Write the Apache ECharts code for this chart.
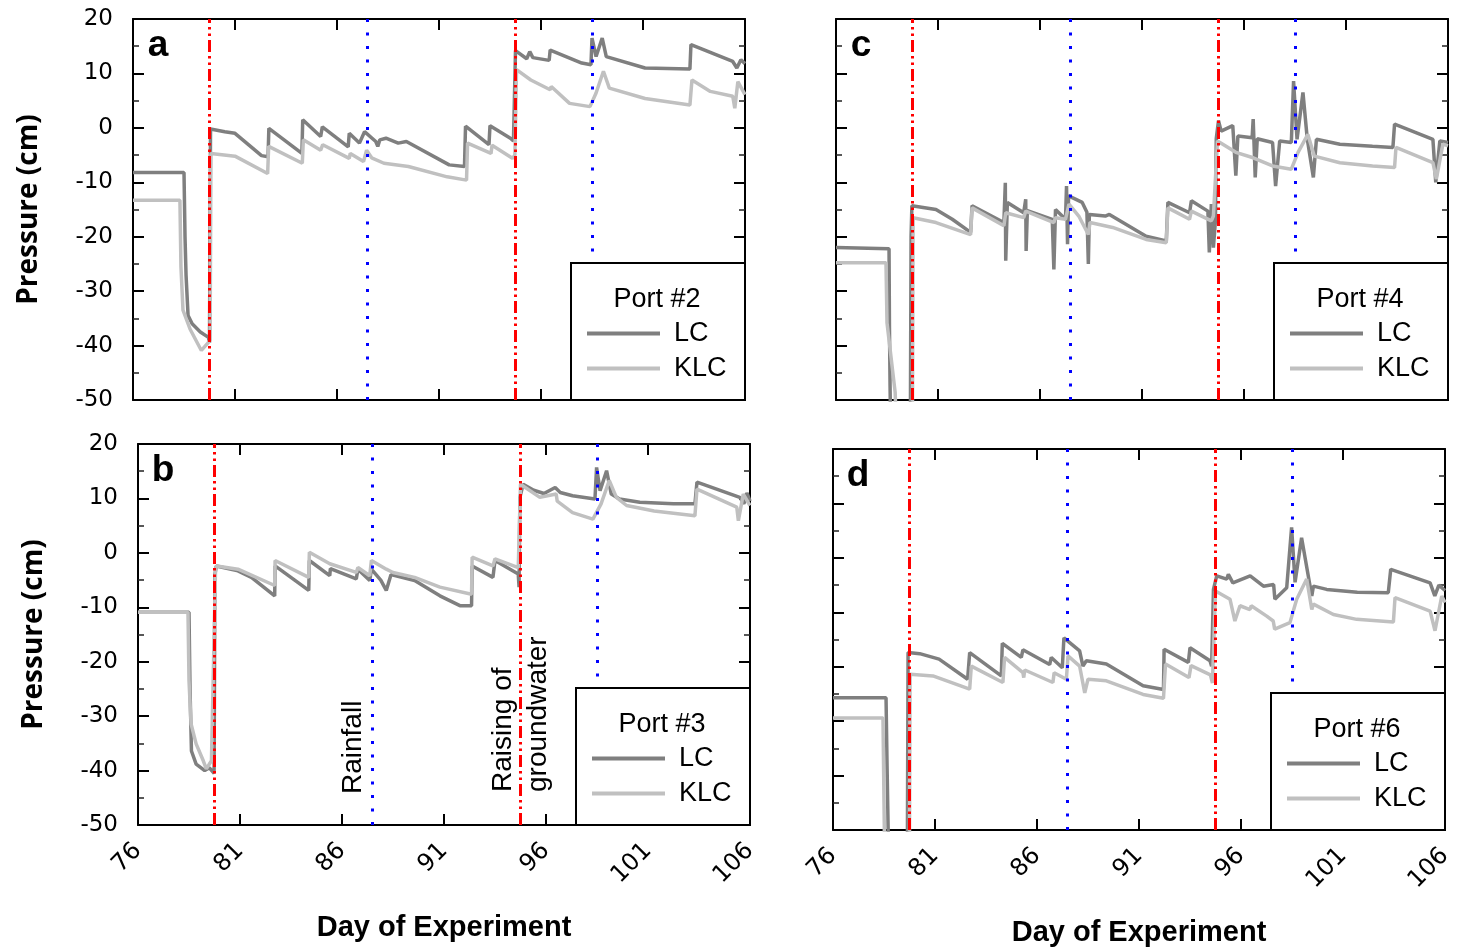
<!DOCTYPE html>
<html>
<head>
<meta charset="utf-8">
<script src="https://cdn.jsdelivr.net/npm/echarts@6/dist/echarts.min.js"></script>
<style>
  html, body { margin: 0; padding: 0; background: #fff; }
  #chart { width: 1459px; height: 951px; }
</style>
</head>
<body>
<div id="chart"></div>
<script>
// Event days (vertical guide lines)
const groundwaterDays = [79.75, 94.72];
const rainfallDays = [87.46, 98.5];

// Axis ranges
const dayRange = [76, 106];
const pressureRange = [-50, 20];

// Port #2 pressure (cm) by day
const port2LC = [[76,-8.2],[78.5,-8.2],[78.55,-20],[78.6,-27],[78.7,-34.5],[78.9,-36],[79.3,-37.5],[79.7,-38.5],[79.75,-39.5],[79.8,-0.2],[80.5,-0.7],[81.0,-1.0],[82.3,-5.1],[82.62,-5.3],[82.66,-0.1],[84.28,-4.7],[84.32,1.5],[85.2,-1.6],[85.28,0.2],[86.55,-3.5],[86.6,-1],[87.1,-2.8],[87.35,-0.7],[87.9,-2.5],[88.0,-3.4],[88.1,-2.2],[88.4,-1.9],[89.0,-2.8],[89.4,-2.5],[91.5,-6.8],[92.25,-7.1],[92.3,0.3],[93.45,-3.1],[93.5,0.4],[94.5,-1.9],[94.65,-2.4],[94.75,14.2],[95.3,12.7],[95.45,14],[95.6,12.9],[96.4,12.4],[96.45,14.3],[98.0,11.9],[98.45,11.6],[98.5,16.5],[98.7,13.1],[99.0,16.5],[99.2,13.1],[101.1,11.0],[103.3,10.8],[103.35,15.3],[105.4,12.2],[105.6,11],[105.8,12.5],[106,11.8]];
const port2KLC = [[76,-13.3],[78.3,-13.3],[78.35,-25.5],[78.45,-33.5],[78.8,-37],[79.35,-40.9],[79.7,-39.4],[79.78,-39],[79.82,-4.7],[81.0,-5.2],[82.6,-8.4],[82.65,-3.4],[84.3,-6.5],[84.35,-2.2],[85.2,-4.1],[85.3,-3.1],[86.6,-5.6],[86.65,-4.7],[87.3,-6.2],[87.45,-4.1],[87.7,-5.5],[88.3,-6.5],[89.5,-7.1],[91.4,-9],[92.35,-9.6],[92.4,-2.8],[93.55,-4.7],[93.6,-3.2],[94.6,-5.6],[94.72,-5.0],[94.8,10.7],[95.5,8.8],[96.45,7],[96.5,7.6],[97.4,4.5],[98.4,3.9],[98.7,6.4],[99.06,10.4],[99.35,7.3],[101.1,5.4],[103.3,4.2],[103.4,8.8],[104.3,6.7],[105.4,5.8],[105.5,3.6],[105.65,8.5],[106,6.1]];

// Port #3 pressure (cm) by day
const port3LC = [[76,-10.9],[78.5,-10.9],[78.55,-25],[78.62,-36.4],[78.85,-38.8],[79.27,-40],[79.5,-39.5],[79.73,-40.5],[79.77,-4],[79.84,-2.4],[80.9,-3.3],[81.56,-4.5],[82.7,-7.9],[82.72,-2.4],[84.37,-6.9],[84.4,-1.4],[85.4,-4.2],[85.43,-2.9],[86.7,-4.8],[86.78,-3.0],[87.36,-5.1],[87.44,-3.0],[87.9,-5.0],[88.17,-6.9],[88.4,-4.0],[89.56,-5.1],[90.8,-7.9],[91.78,-9.7],[92.35,-9.7],[92.38,-2.4],[93.4,-4.5],[93.5,-1.4],[94.64,-3.9],[94.68,-6.3],[94.72,10.2],[94.88,12.6],[95.4,11.5],[95.9,10.9],[96.45,12.0],[96.7,11.1],[97.3,10.5],[98.4,9.9],[98.48,15.7],[98.65,11.4],[98.97,15.1],[99.2,10.8],[99.6,9.9],[100.6,9.3],[102.24,9.0],[103.3,9.0],[103.4,13.0],[105.5,10.2],[105.7,9.0],[105.85,11.0],[106,9.5]];
const port3KLC = [[76,-10.9],[78.45,-10.9],[78.5,-23.5],[78.6,-31.4],[78.85,-35.1],[79.2,-38.2],[79.35,-39.7],[79.6,-38.2],[79.8,-3],[79.86,-2.4],[80.9,-3.0],[82.7,-6.0],[82.72,-1.4],[84.37,-4.5],[84.4,0.1],[85.4,-2.0],[85.43,-1.7],[86.7,-3.6],[86.78,-2.7],[87.36,-4.2],[87.44,-1.4],[88.17,-3.0],[88.5,-3.6],[89.56,-4.5],[90.8,-6.3],[92.35,-7.6],[92.38,-0.8],[93.4,-2.4],[93.5,-1.1],[94.64,-2.7],[94.75,12.6],[95.7,10.2],[96.5,10.8],[96.55,9.5],[97.3,7.4],[98.3,6.2],[98.7,9.0],[99.1,13.3],[99.45,10.2],[99.95,8.7],[101.3,7.7],[103.3,6.8],[103.4,11.7],[105.35,8.4],[105.43,5.9],[105.67,10.8],[106,8.7]];

// Port #4 pressure (cm) by day
const port4LC = [[76,-22.0],[78.6,-22.2],[78.62,-36.4],[78.65,-47.4],[78.7,-60],[79.64,-60],[79.68,-20],[79.72,-14.3],[80.9,-15],[81.7,-16.8],[82.6,-19.2],[82.67,-14.3],[84.23,-17.4],[84.3,-10.1],[84.32,-24.4],[84.4,-13.7],[85.2,-15.6],[85.3,-13.1],[85.32,-22.6],[85.38,-15.2],[86.6,-16.8],[86.68,-26],[86.76,-15],[87.25,-16.8],[87.3,-10.7],[87.35,-21.4],[87.4,-12.5],[88.07,-13.7],[88.3,-15.5],[88.37,-25],[88.42,-15.9],[89.2,-16.2],[89.4,-15.9],[91.2,-19.9],[92.19,-20.8],[92.27,-13.7],[93.33,-15.6],[93.42,-13.4],[94.23,-15.3],[94.3,-22.9],[94.4,-14],[94.5,-22],[94.6,-17],[94.64,-2],[94.75,1.3],[94.88,-0.6],[95.45,0.4],[95.6,-8.8],[95.7,-1.5],[96.4,-1.8],[96.45,1.6],[96.55,-9.1],[96.65,-2.0],[97.4,-2.7],[97.55,-10.7],[97.75,-2.4],[98.32,-2.7],[98.43,8.6],[98.6,-2.1],[98.89,6.5],[99.1,-2],[99.4,-9.1],[99.55,-2.1],[100.7,-3.0],[102.3,-3.4],[103.3,-3.6],[103.38,0.7],[105.26,-2.1],[105.4,-10.0],[105.6,-2.4],[106,-2.7]];
const port4KLC = [[76,-24.8],[78.45,-24.8],[78.5,-35.8],[78.9,-48.6],[79.0,-60],[79.74,-60],[79.78,-16.5],[80.9,-17.4],[82.6,-19.6],[82.67,-14.7],[84.23,-18.0],[84.32,-15.6],[85.2,-16.5],[85.3,-15.3],[86.68,-17.4],[86.76,-16.5],[87.25,-16.8],[87.42,-14.0],[87.9,-16.2],[88.37,-19.6],[88.45,-17.4],[89.56,-18.3],[91.2,-20.5],[92.19,-21.1],[92.27,-14.7],[93.33,-16.8],[93.42,-15.3],[94.4,-17.1],[94.5,-16.2],[94.7,-2.4],[95.6,-4.5],[96.45,-5.5],[97.4,-7.0],[98.32,-7.6],[98.65,-4.5],[99.13,-1.2],[99.45,-5.2],[100.7,-6.4],[102.3,-7.0],[103.38,-7.3],[103.45,-3.6],[105.26,-6.4],[105.43,-9.4],[105.75,-3.0],[106,-3.3]];

// Port #6 pressure (cm) by day
const port6LC = [[76,-25.7],[78.6,-25.7],[78.65,-38.2],[78.75,-60],[79.64,-60],[79.68,-17.4],[80.25,-17.6],[81.2,-18.6],[82.6,-22.3],[82.7,-17.4],[84.25,-21.7],[84.3,-15.7],[85.23,-18.3],[85.31,-16.9],[86.62,-19.6],[86.7,-18.3],[87.24,-20.2],[87.32,-14.7],[88.09,-17.1],[88.25,-19.9],[88.42,-18.9],[89.4,-19.5],[91.2,-23.5],[92.2,-24.2],[92.23,-16.8],[93.42,-19.2],[93.5,-16.5],[94.48,-18.9],[94.56,-19.9],[94.65,-5.8],[94.81,-3.3],[95.3,-3.9],[95.38,-3.0],[95.6,-4.6],[96.45,-3.3],[97.1,-5.2],[97.6,-4.9],[97.66,-7.6],[98.24,-5.5],[98.48,5.6],[98.65,-4.5],[98.97,3.7],[99.47,-7.0],[99.55,-5.2],[100.2,-5.8],[101.7,-6.3],[103.22,-6.4],[103.34,-2.1],[105.27,-4.6],[105.5,-7],[105.7,-5],[106,-6]];
const port6KLC = [[76,-29.4],[78.45,-29.4],[78.5,-45],[78.55,-60],[79.74,-60],[79.78,-21.4],[80.9,-21.7],[82.7,-24.1],[82.78,-19.9],[84.33,-22.9],[84.41,-18.3],[85.31,-21.1],[85.35,-22],[85.4,-20.6],[86.78,-22.9],[86.84,-21.1],[87.44,-22.3],[87.52,-18.0],[88.09,-19.9],[88.34,-24.8],[88.5,-22.3],[89.4,-22.6],[91.2,-25.1],[92.2,-25.8],[92.3,-19.5],[93.45,-22],[93.55,-19.8],[94.5,-21.5],[94.6,-23],[94.75,-6.1],[95.46,-7.6],[95.7,-11.6],[95.95,-8.8],[96.44,-9.5],[96.5,-8.8],[97.26,-10.7],[97.58,-11.6],[97.65,-13.1],[98.4,-11.9],[98.73,-7.6],[99.22,-3.9],[99.47,-9.5],[99.55,-8.5],[100.53,-10.4],[101.67,-11.3],[103.47,-11.8],[103.55,-7.3],[105.27,-9.8],[105.51,-13.4],[105.84,-7.0],[106,-8.2]];

const portNames = ['Port #2', 'Port #3', 'Port #4', 'Port #6'];
const panelLetters = ['a', 'b', 'c', 'd'];
const lcSeries = [port2LC, port3LC, port4LC, port6LC];
const klcSeries = [port2KLC, port3KLC, port4KLC, port6KLC];

// Panel placement (pixels)
const PW = 612, PH = 381;
const panelBoxes = [
  { left: 133, top: 19,  xLabels: false, yLabels: true },
  { left: 138, top: 444, xLabels: true,  yLabels: true },
  { left: 836, top: 19,  xLabels: false, yLabels: false },
  { left: 833, top: 449, xLabels: true,  yLabels: false }
];

const LC_COLOR = '#7f7f7f';
const KLC_COLOR = '#c0c0c0';
const TICK_FONT = 'DejaVu Sans';
const TEXT_FONT = 'Liberation Sans';

const frameLine = { show: true, onZero: false, lineStyle: { color: '#000', width: 2 } };
const majorTick = { show: true, inside: true, length: 11, lineStyle: { color: '#000', width: 2 } };

const grids = [], xAxes = [], yAxes = [], series = [], legends = [], graphics = [];

panelBoxes.forEach((box) => {
  grids.push({ left: box.left, top: box.top, width: PW, height: PH, show: false });
});

// bottom and top x axes
for (let pass = 0; pass < 2; pass++) {
  panelBoxes.forEach((box, i) => {
    const isBottom = pass === 0;
    xAxes.push({
      type: 'value', gridIndex: i, position: isBottom ? 'bottom' : 'top',
      min: dayRange[0], max: dayRange[1], interval: 5,
      axisLine: frameLine, axisTick: majorTick, splitLine: { show: false },
      axisLabel: {
        show: isBottom && box.xLabels, rotate: 45, margin: 22,
        fontFamily: TICK_FONT, fontSize: 24, color: '#000'
      },
      name: (isBottom && box.xLabels) ? 'Day of Experiment' : '',
      nameLocation: 'middle', nameGap: 88,
      nameTextStyle: { fontFamily: TEXT_FONT, fontWeight: 'bold', fontSize: 29, color: '#000' }
    });
  });
}

// left and right y axes
for (let pass = 0; pass < 2; pass++) {
  panelBoxes.forEach((box, i) => {
    const isLeft = pass === 0;
    yAxes.push({
      type: 'value', gridIndex: i, position: isLeft ? 'left' : 'right',
      min: pressureRange[0], max: pressureRange[1], interval: 10,
      axisLine: frameLine, axisTick: majorTick,
      minorTick: { show: true, splitNumber: 2, length: 6, lineStyle: { color: '#222', width: 1.5 } },
      splitLine: { show: false }, minorSplitLine: { show: false },
      axisLabel: {
        show: isLeft && box.yLabels, margin: 20,
        fontFamily: TICK_FONT, fontSize: 23, color: '#000'
      },
      name: (isLeft && box.yLabels) ? 'Pressure (cm)' : '',
      nameLocation: 'middle', nameGap: 90, nameRotate: 90,
      nameTextStyle: { fontFamily: 'Open Sans', fontWeight: 'bold', fontSize: 28, color: '#000' }
    });
  });
}

const redStyle = { color: '#ff0000', width: 3, type: [12, 4, 2.5, 4, 2.5, 4] };
const blueStyle = { color: '#0000ff', width: 3, type: [3, 10.5] };

panelBoxes.forEach((box, i) => {
  series.push({
    type: 'line', name: 'LC', xAxisIndex: i, yAxisIndex: i,
    data: lcSeries[i], symbol: 'none', showSymbol: false,
    lineStyle: { color: LC_COLOR, width: 3.5 }, itemStyle: { color: LC_COLOR },
    z: 2, animation: false
  });
  series.push({
    type: 'line', name: 'KLC', xAxisIndex: i, yAxisIndex: i,
    data: klcSeries[i], symbol: 'none', showSymbol: false,
    lineStyle: { color: KLC_COLOR, width: 3.5 }, itemStyle: { color: KLC_COLOR },
    z: 3, animation: false
  });
  series.push({
    type: 'line', name: 'events', xAxisIndex: i, yAxisIndex: i, data: [],
    z: 4, animation: false,
    markLine: {
      silent: true, animation: false, symbol: ['none', 'none'],
      label: { show: false },
      data: groundwaterDays.map(d => ({ xAxis: d, lineStyle: redStyle }))
        .concat(rainfallDays.map(d => ({ xAxis: d, lineStyle: blueStyle })))
    }
  });

  const right = box.left + PW, bottom = box.top + PH;
  // legend frame and port title
  graphics.push({
    type: 'rect', z: 10, silent: true,
    shape: { x: right - 174, y: bottom - 137, width: 174, height: 137 },
    style: { fill: '#fff', stroke: '#000', lineWidth: 2 }
  });
  graphics.push({
    type: 'text', z: 11, silent: true, x: right - 88, y: bottom - 100,
    style: { text: portNames[i], font: '27px "Liberation Sans"', fill: '#000', align: 'center', verticalAlign: 'middle' }
  });
  legends.push({
    orient: 'vertical', left: right - 158, top: bottom - 80, padding: 0,
    itemWidth: 73, itemHeight: 4, itemGap: 8, icon: 'rect', z: 12,
    data: ['LC', 'KLC'], selectedMode: false,
    textStyle: { fontFamily: TEXT_FONT, fontSize: 27, color: '#000', padding: [0, 0, 0, 9] }
  });
  // panel letter
  graphics.push({
    type: 'text', z: 11, silent: true, x: box.left + 25, y: box.top + 27,
    style: { text: panelLetters[i], font: 'bold 37px "Liberation Sans"', fill: '#000', align: 'center', verticalAlign: 'middle' }
  });
});

// event annotations in panel b
const pb = panelBoxes[1];
const dayToX = (box, d) => box.left + (d - dayRange[0]) / (dayRange[1] - dayRange[0]) * PW;
graphics.push({
  type: 'text', z: 11, silent: true, rotation: Math.PI / 2,
  x: dayToX(pb, rainfallDays[0]) - 19, y: pb.top + PH - 31,
  style: { text: 'Rainfall', font: '28px "Liberation Sans"', fill: '#000', align: 'left', verticalAlign: 'middle' }
});
graphics.push({
  type: 'text', z: 11, silent: true, rotation: Math.PI / 2,
  x: dayToX(pb, groundwaterDays[1]) + 1, y: pb.top + PH - 33,
  style: { text: 'Raising of\ngroundwater', font: '28px "Liberation Sans"', lineHeight: 35, fill: '#000', align: 'left', verticalAlign: 'middle' }
});

const chart = echarts.init(document.getElementById('chart'), null, { renderer: 'canvas' });
chart.setOption({
  animation: false,
  backgroundColor: '#fff',
  grid: grids,
  xAxis: xAxes,
  yAxis: yAxes,
  legend: legends,
  series: series,
  graphic: graphics
});
</script>
</body>
</html>
